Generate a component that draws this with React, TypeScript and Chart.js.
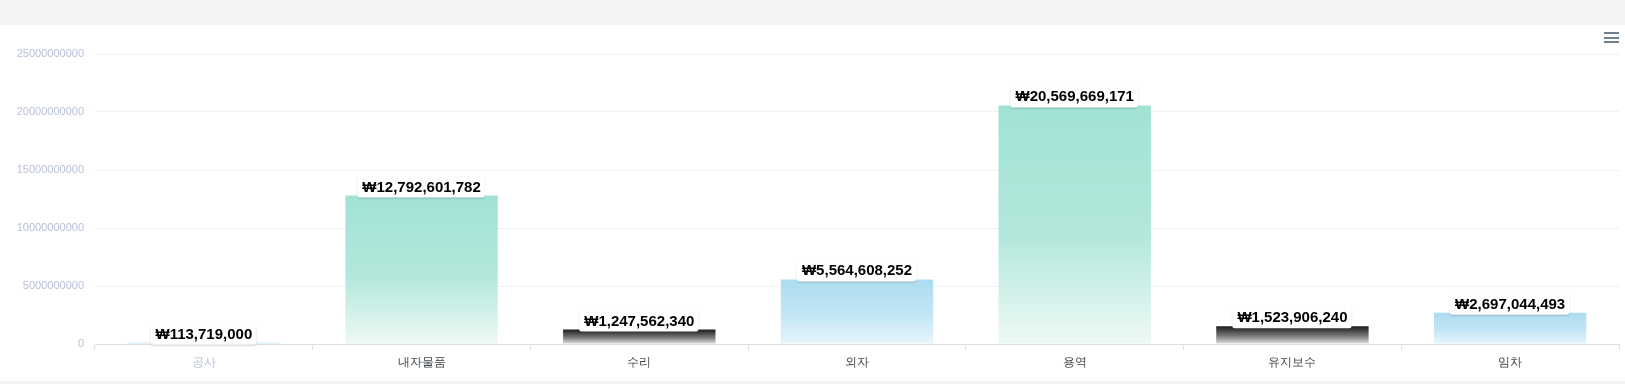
import React, { useEffect, useRef } from "react";
import { Chart, registerables } from "chart.js";

Chart.register(...registerables);

const categories = ["공사", "내자물품", "수리", "외자", "용역", "유지보수", "임차"];
const values = [113719000, 12792601782, 1247562340, 5564608252, 20569669171, 1523906240, 2697044493];
const yMax = 25000000000;
const yStep = 5000000000;

const palettes: string[][] = [
  ["#abdcf0", "#c3e6f5", "#e8f5fb"],
  ["#a1e2d4", "#b3e8dc", "#eef9f6"],
  ["#1c1c1c", "#7a7a7a", "#e2e2e2"],
];
const barPalette = [0, 1, 2, 0, 1, 2, 0];
const xLabelColors = ["#b9bfd9", "#40464a", "#40464a", "#40464a", "#40464a", "#40464a", "#40464a"];

const fmt = (v: number) => "₩" + v.toLocaleString("en-US");

const labelPlugin = {
  id: "barLabels",
  afterDatasetsDraw(chart: any) {
    const ctx = chart.ctx;
    const meta = chart.getDatasetMeta(0);
    ctx.save();
    ctx.font = "bold 15px Arial, Helvetica, sans-serif";
    meta.data.forEach((bar: any, i: number) => {
      const text = fmt(values[i]);
      const w = ctx.measureText(text).width;
      const top = bar.y;
      const left = bar.x - w / 2;
      const boxL = left - 5;
      const boxR = left + w + 4;
      const boxT = top - 19;
      const boxB = top + 2;
      ctx.save();
      ctx.shadowColor = "rgba(0,0,0,0.18)";
      ctx.shadowBlur = 1.5;
      ctx.shadowOffsetY = 1;
      ctx.fillStyle = "#ffffff";
      ctx.beginPath();
      (ctx as any).roundRect(boxL, boxT, boxR - boxL, boxB - boxT, 2);
      ctx.fill();
      ctx.restore();
      ctx.fillStyle = "#000000";
      ctx.textAlign = "left";
      ctx.textBaseline = "alphabetic";
      ctx.fillText(text, left, top - 4);
    });
    ctx.restore();
  },
};

export default function App() {
  const ref = useRef<HTMLCanvasElement>(null);
  useEffect(() => {
    document.body.style.margin = "0";
    document.body.style.background = "#f3f4f6";
    const canvas = ref.current!;
    const chart = new Chart(canvas, {
      type: "bar",
      data: {
        labels: categories,
        datasets: [
          {
            data: values,
            barPercentage: 0.7,
            categoryPercentage: 1,
            borderWidth: 0,
            backgroundColor: (c: any) => {
              const i = c.dataIndex ?? 0;
              const p = palettes[barPalette[i] ?? 0];
              const chart = c.chart;
              if (!chart.chartArea || c.type !== "data") return p[0];
              const ys = chart.scales.y;
              const t = ys.getPixelForValue(values[i]);
              const b = ys.getPixelForValue(0);
              if (!isFinite(t) || !isFinite(b) || b - t < 0.5) return p[0];
              const g = chart.ctx.createLinearGradient(0, t, 0, b);
              g.addColorStop(0, p[0]);
              g.addColorStop(0.55, p[1]);
              g.addColorStop(1, p[2]);
              return g;
            },
          },
        ],
      },
      options: {
        responsive: false,
        animation: false,
        devicePixelRatio: 1,
        layout: { padding: { top: 29, right: 6, left: 0, bottom: 0 } },
        plugins: { legend: { display: false }, tooltip: { enabled: false } },
        scales: {
          x: {
            offset: true,
            grid: {
              offset: true,
              drawOnChartArea: false,
              drawTicks: true,
              tickLength: 6,
              color: "#e0e0e0",
            },
            border: { display: true, color: "#e0e0e0" },
            ticks: {
              padding: 5,
              color: (c: any) => xLabelColors[c.index] ?? "#40464a",
              font: { size: 12, family: "Helvetica, Arial, sans-serif" },
            },
            afterFit: (s: any) => {
              s.height = 37;
            },
          },
          y: {
            min: 0,
            max: yMax,
            grid: { color: "#f1f1f1", drawTicks: false },
            border: { display: false },
            ticks: {
              stepSize: yStep,
              padding: 11,
              color: "#b8bfdb",
              font: { size: 11, family: "Helvetica, Arial, sans-serif" },
              callback: (v: any) => String(v),
            },
            afterFit: (s: any) => {
              s.width = 95;
            },
          },
        },
      },
      plugins: [labelPlugin],
    });
    return () => chart.destroy();
  }, []);

  return (
    <div style={{ width: 1625, height: 384, background: "#f3f4f6", paddingTop: 25, boxSizing: "border-box" }}>
      <div style={{ position: "relative", width: 1625, height: 356, background: "#ffffff" }}>
        <canvas ref={ref} width={1625} height={356} style={{ display: "block", width: 1625, height: 356 }} />
        {[7, 12, 16].map((t) => (
          <span
            key={t}
            style={{
              position: "absolute",
              left: 1604,
              top: t,
              width: 15,
              height: 1.5,
              background: "#6e8192",
            }}
          />
        ))}
      </div>
    </div>
  );
}
